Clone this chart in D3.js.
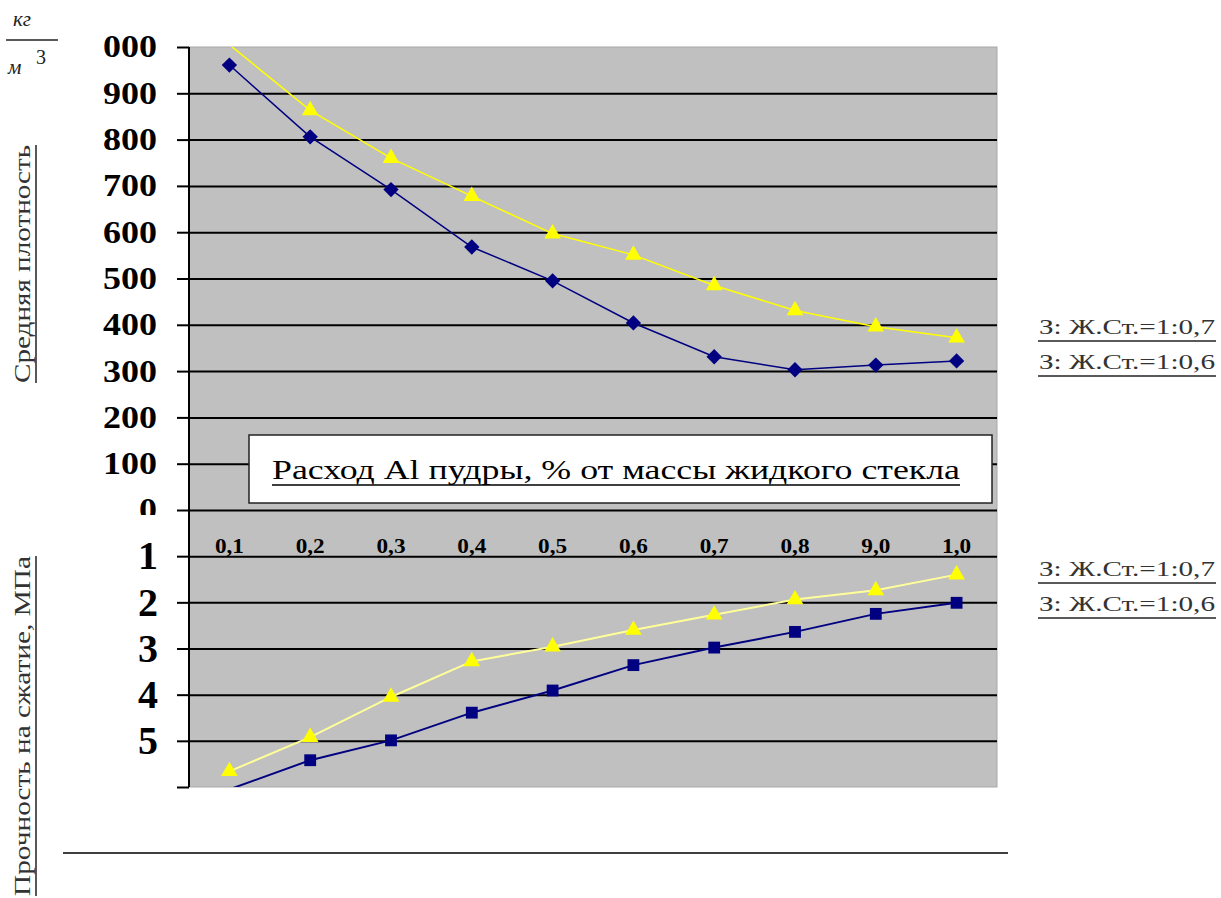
<!DOCTYPE html>
<html>
<head>
<meta charset="utf-8">
<script src="https://cdn.jsdelivr.net/npm/d3@7"></script>
<style>
  html, body { margin: 0; padding: 0; background: #fff; }
  svg { display: block; }
</style>
</head>
<body>
<div id="chart"></div>
<script>
(function ()
{
  'use strict';

  // categories along x (as printed on the chart, including its "9,0")
  var categories = ['0,1', '0,2', '0,3', '0,4', '0,5', '0,6', '0,7', '0,8', '9,0', '1,0'];

  // average density, kg/m3
  var density07 = [1005, 863, 760, 678, 597, 551, 485, 431, 396, 372];
  var density06 = [961, 806, 692, 568, 495, 404, 331, 303, 313, 322];

  // compressive strength, MPa (drawn downward)
  var strength07 = [5.66, 4.92, 4.05, 3.28, 2.96, 2.60, 2.27, 1.94, 1.74, 1.40];
  var strength06 = [6.05, 5.42, 4.99, 4.39, 3.91, 3.36, 2.98, 2.64, 2.25, 2.01];

  var densityTicks = [0, 100, 200, 300, 400, 500, 600, 700, 800, 900, 1000];
  var densityTickLabels = ['0', '100', '200', '300', '400', '500', '600', '700', '800', '900', '000'];
  var strengthTicks = [1, 2, 3, 4, 5, 6];
  var strengthTickLabels = ['1', '2', '3', '4', '5', ''];

  var legendLabels = ['З: Ж.Ст.=1:0,7', 'З: Ж.Ст.=1:0,6'];
  var xTitle = 'Расход Al пудры, % от массы жидкого стекла';
  var densityTitle = 'Средняя плотность';
  var strengthTitle = 'Прочность на сжатие, МПа';

  var w = 1221, h = 898;
  var plot = {left: 189, right: 997, top: 47, zero: 510, bottom: 787};
  var serif = '"Liberation Serif", "Times New Roman", serif';
  var navy = '#000080', yellow = '#ffff00';

  var svg = d3.select('#chart')
    .append('svg')
    .attr('width', w)
    .attr('height', h);

  var x = d3.scalePoint()
    .domain(categories)
    .range([plot.left, plot.right])
    .padding(0.5);

  var yTop = d3.scaleLinear().domain([0, 1000]).range([plot.zero, plot.top]);
  var yBot = d3.scaleLinear().domain([0, 6]).range([plot.zero, plot.bottom]);

  svg.append('clipPath').attr('id', 'plotClip')
    .append('rect')
    .attr('x', plot.left).attr('y', plot.top)
    .attr('width', plot.right - plot.left)
    .attr('height', plot.bottom - plot.top);

  // the "0" label of the upper axis is cut at its lower half in the original
  svg.append('clipPath').attr('id', 'topLabelClip')
    .append('rect')
    .attr('x', -plot.left).attr('y', 0).attr('width', plot.left + 20).attr('height', 515);

  // plot background
  svg.append('rect')
    .attr('x', plot.left).attr('y', plot.top)
    .attr('width', plot.right - plot.left)
    .attr('height', plot.bottom - plot.top)
    .attr('fill', '#c0c0c0')
    .attr('stroke', '#a8a8a8')
    .attr('stroke-width', 1);

  // gridlines
  var gridW = plot.right - plot.left;
  var topGrid = svg.append('g')
    .attr('transform', 'translate(' + plot.left + ',0)')
    .call(d3.axisLeft(yTop).tickValues(densityTicks.slice(0, -1)).tickSize(-gridW).tickFormat(''));
  var botGrid = svg.append('g')
    .attr('transform', 'translate(' + plot.left + ',0)')
    .call(d3.axisLeft(yBot).tickValues(strengthTicks.slice(0, -1)).tickSize(-gridW).tickFormat(''));
  [topGrid, botGrid].forEach(function(g) {
    g.select('.domain').remove();
    g.selectAll('line').attr('stroke', '#000').attr('stroke-width', 2);
  });

  // axis ticks + labels
  var topAxis = svg.append('g')
    .attr('transform', 'translate(' + plot.left + ',0)')
    .attr('clip-path', 'url(#topLabelClip)')
    .call(d3.axisLeft(yTop).tickValues(densityTicks).tickSize(12).tickPadding(20)
      .tickFormat(function(d, i) { return densityTickLabels[i]; }));
  var botAxis = svg.append('g')
    .attr('transform', 'translate(' + plot.left + ',0)')
    .call(d3.axisLeft(yBot).tickValues(strengthTicks).tickSize(12).tickPadding(19)
      .tickFormat(function(d, i) { return strengthTickLabels[i]; }));
  [topAxis, botAxis].forEach(function(g) {
    g.select('.domain').remove();
    g.selectAll('line').attr('stroke', '#000').attr('stroke-width', 2);
    g.selectAll('text')
      .attr('fill', '#000')
      .style('font-family', serif)
      .style('font-weight', 'bold');
  });
  topAxis.selectAll('text')
    .style('font-size', '31px')
    .attr('textLength', function() { return this.textContent.length * 18; })
    .attr('lengthAdjust', 'spacingAndGlyphs');
  botAxis.selectAll('text').style('font-size', '40px');

  svg.append('line')
    .attr('x1', plot.left).attr('x2', plot.left)
    .attr('y1', plot.top).attr('y2', plot.bottom)
    .attr('stroke', '#000').attr('stroke-width', 2);

  // category labels between the two panels
  svg.append('g').selectAll('text')
    .data(categories)
    .enter().append('text')
    .attr('x', function(d) { return x(d); })
    .attr('y', 553)
    .attr('text-anchor', 'middle')
    .attr('textLength', 29)
    .attr('lengthAdjust', 'spacingAndGlyphs')
    .style('font-family', serif)
    .style('font-weight', 'bold')
    .style('font-size', '20px')
    .text(function(d) { return d; });

  // title box
  svg.append('rect')
    .attr('x', 249).attr('y', 435)
    .attr('width', 743).attr('height', 68)
    .attr('fill', '#fff')
    .attr('stroke', '#222').attr('stroke-width', 1.5);
  svg.append('text')
    .attr('x', 616).attr('y', 479)
    .attr('text-anchor', 'middle')
    .attr('textLength', 688)
    .attr('lengthAdjust', 'spacingAndGlyphs')
    .style('font-family', serif)
    .style('font-size', '27px')
    .text(xTitle);
  svg.append('line')
    .attr('x1', 272).attr('x2', 960).attr('y1', 485).attr('y2', 485)
    .attr('stroke', '#000').attr('stroke-width', 1.5);

  // series
  var series = [
    {values: density07, y: yTop, line: yellow, width: 1.5, fill: yellow, symbol: d3.symbolTriangle, size: 120},
    {values: density06, y: yTop, line: navy, width: 1.5, fill: navy, symbol: d3.symbolDiamond2, size: 150},
    {values: strength07, y: yBot, line: '#ffff99', width: 2, fill: yellow, symbol: d3.symbolTriangle, size: 120},
    {values: strength06, y: yBot, line: navy, width: 2, fill: navy, symbol: d3.symbolSquare, size: 140}
  ];

  var marks = svg.append('g').attr('clip-path', 'url(#plotClip)');
  series.forEach(function(s) {
    var line = d3.line()
      .x(function(d, i) { return x(categories[i]); })
      .y(function(d) { return s.y(d); });
    marks.append('path')
      .datum(s.values)
      .attr('d', line)
      .attr('fill', 'none')
      .attr('stroke', s.line)
      .attr('stroke-width', s.width);
    var dom = s.y.domain();
    marks.append('g').selectAll('path')
      .data(s.values.map(function(v, i) { return {v: v, c: categories[i]}; })
        .filter(function(d) { return d.v >= dom[0] && d.v <= dom[1]; }))
      .enter().append('path')
      .attr('transform', function(d) { return 'translate(' + x(d.c) + ',' + s.y(d.v) + ')'; })
      .attr('d', d3.symbol().type(s.symbol).size(s.size))
      .attr('fill', s.fill);
  });

  // legends on the right
  function legend(baseY) {
    legendLabels.forEach(function(t, i) {
      var by = baseY + i * 35;
      svg.append('text')
        .attr('x', 1039).attr('y', by)
        .attr('textLength', 176)
        .attr('lengthAdjust', 'spacingAndGlyphs')
        .attr('fill', '#333')
        .style('font-family', serif)
        .style('font-size', '22px')
        .text(t);
      svg.append('line')
        .attr('x1', 1038).attr('x2', 1216).attr('y1', by + 7).attr('y2', by + 7)
        .attr('stroke', '#222').attr('stroke-width', 1.5);
    });
  }
  legend(334);
  legend(576);

  // rotated axis titles
  function yTitle(text, cx, endY, len) {
    svg.append('text')
      .attr('transform', 'translate(' + cx + ',' + endY + ') rotate(-90)')
      .attr('text-anchor', 'end')
      .attr('textLength', len)
      .attr('lengthAdjust', 'spacingAndGlyphs')
      .attr('fill', '#333')
      .style('font-family', serif)
      .style('font-size', '23px')
      .text(text);
    svg.append('line')
      .attr('x1', cx + 6).attr('x2', cx + 6)
      .attr('y1', endY).attr('y2', endY + len)
      .attr('stroke', '#222').attr('stroke-width', 1.5);
  }
  yTitle(densityTitle, 30, 145, 238);
  yTitle(strengthTitle, 30, 556, 340);

  // unit kg/m3
  var unit = svg.append('g')
    .style('font-family', serif)
    .style('font-style', 'italic')
    .attr('fill', '#222');
  unit.append('text').attr('x', 13).attr('y', 26).style('font-size', '21px').text('кг');
  unit.append('line')
    .attr('x1', 6).attr('x2', 58).attr('y1', 40).attr('y2', 40)
    .attr('stroke', '#222').attr('stroke-width', 1.5);
  unit.append('text').attr('x', 8).attr('y', 74).style('font-size', '21px').text('м');
  unit.append('text').attr('x', 36).attr('y', 64).style('font-size', '20px').style('font-style', 'normal').text('3');

  // bottom rule
  svg.append('line')
    .attr('x1', 63).attr('x2', 1008).attr('y1', 853).attr('y2', 853)
    .attr('stroke', '#000').attr('stroke-width', 1.5);

})();
</script>
</body>
</html>
